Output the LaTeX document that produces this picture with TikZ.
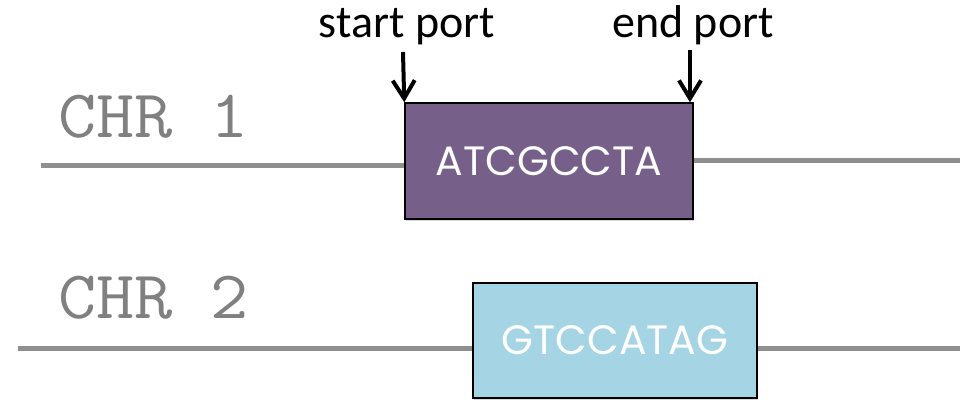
\documentclass[tikz,border=0pt]{standalone}
\usepackage{fontspec}
\newfontfamily\portfont{Carlito}
\newfontfamily\seqfont{Poppins}
\usetikzlibrary{arrows.meta,shadows}

\definecolor{chrgray}{HTML}{8F8F8F}
\definecolor{chrtext}{HTML}{808080}
\definecolor{seqpurple}{HTML}{76608A}
\definecolor{seqblue}{HTML}{A5D5E5}

\begin{document}
\begin{tikzpicture}[x=1pt,y=-1pt,
  chrline/.style={line width=5pt, draw=chrgray, drop shadow={shadow xshift=1pt, shadow yshift=-2pt, opacity=0.25}},
  chrlabel/.style={anchor=base west, inner sep=0pt, text=chrtext, xscale=1.09, transform shape, font=\ttfamily\fontsize{68}{68}\selectfont},
  seqbox/.style={draw=black, line width=1.5pt, inner sep=0pt, text=white, font=\seqfont\fontsize{41}{41}\selectfont,
    drop shadow={shadow xshift=1pt, shadow yshift=-2pt, opacity=0.3}},
  portarrow/.style={line width=4pt, -{Straight Barb[length=18pt,width=22pt]}},
  portlabel/.style={anchor=base, inner sep=0pt, font=\portfont\fontsize{46}{46}\selectfont}]
  % \draw[step=10,thin,gray!40] (0,0) grid (960,406);
  \useasboundingbox (0,0) rectangle (960,406);

  \node[chrlabel] (chrA) at (58,138) {CHR 1};
  \node[chrlabel] (chrB) at (58,318) {CHR 2};

  \coordinate (chrAstart) at (41,166);
  \coordinate (chrAend)   at (960,161);
  \coordinate (chrBstart) at (18,348);
  \coordinate (chrBend)   at (960,348);

  \node[seqbox, fill=seqpurple, minimum width=288pt, minimum height=116pt] (seqA) at (549,161) {ATCGCCTA};
  \node[seqbox, fill=seqblue, minimum width=284pt, minimum height=115pt] (seqB) at (615,340.5) {GTCCATAG};

  \draw[chrline] (chrAstart) -- (chrAstart -| seqA.west);
  \draw[chrline] (chrAend -| seqA.east) -- (chrAend);
  \draw[chrline] (chrBstart) -- (chrBstart -| seqB.west);
  \draw[chrline] (chrBend -| seqB.east) -- (chrBend);

  \node[portlabel] (startPort) at (407,38) {start port};
  \node[portlabel] (endPort)   at (693,38) {end port};
  \coordinate (startTop) at (403,52);
  \coordinate (endTop)   at (690,50);

  \draw[portarrow] (startTop) -- (seqA.north west);
  \draw[portarrow] (endTop) -- (endTop |- seqA.north east);
\end{tikzpicture}
\end{document}
